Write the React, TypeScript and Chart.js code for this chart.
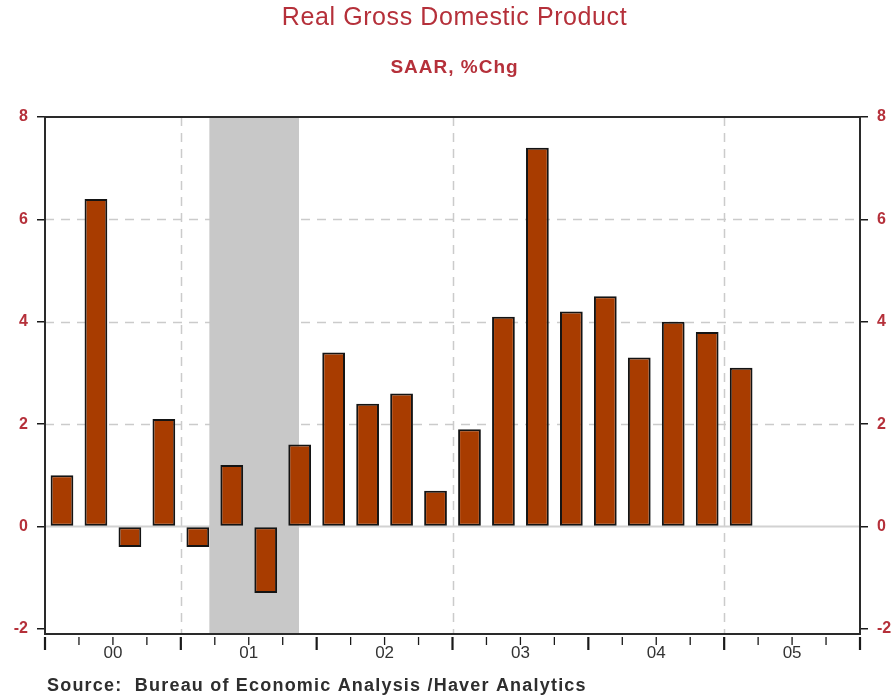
import { useEffect, useRef } from "react";
import { Chart, registerables } from "chart.js";

Chart.register(...registerables);

// Quarterly real GDP growth, SAAR % change
const quarters = [
  "2000Q1", "2000Q2", "2000Q3", "2000Q4",
  "2001Q1", "2001Q2", "2001Q3", "2001Q4",
  "2002Q1", "2002Q2", "2002Q3", "2002Q4",
  "2003Q1", "2003Q2", "2003Q3", "2003Q4",
  "2004Q1", "2004Q2", "2004Q3", "2004Q4",
  "2005Q1",
];
const gdpGrowth = [
  1.0, 6.4, -0.4, 2.1,
  -0.4, 1.2, -1.3, 1.6,
  3.4, 2.4, 2.6, 0.7,
  1.9, 4.1, 7.4, 4.2,
  4.5, 3.3, 4.0, 3.8,
  3.1,
];
const yearLabels = ["00", "01", "02", "03", "04", "05"];
const firstYear = 2000;
const yTicks = [-2, 0, 2, 4, 6, 8];
const yGridValues = [2, 4, 6];
const dashedYears = [2001, 2003, 2005];
// NBER recession, March–November 2001 (fractional years)
const recession = [2001.21, 2001.87];

const TITLE = "Real Gross Domestic Product";
const SUBTITLE = "SAAR, %Chg";
const SOURCE = "Source:  Bureau of Economic Analysis /Haver Analytics";

const RED = "#b5303a";
const FONT = "Arial, 'Liberation Sans', sans-serif";

function quarterToX(q: string): number {
  const yr = parseInt(q.slice(0, 4), 10);
  const n = parseInt(q.slice(5), 10);
  return yr + (n - 0.5) / 4;
}

const decor = {
  id: "decor",
  beforeDatasetsDraw(chart: any) {
    const { ctx, chartArea: a, scales } = chart;
    const x = scales.x;
    const y = scales.y;
    ctx.save();
    // dashed grid
    ctx.strokeStyle = "#cbcbcb";
    ctx.lineWidth = 1.5;
    ctx.setLineDash([9, 7]);
    for (const v of yGridValues) {
      const py = Math.round(y.getPixelForValue(v)) + 0.5;
      ctx.beginPath();
      ctx.moveTo(a.left, py);
      ctx.lineTo(a.right, py);
      ctx.stroke();
    }
    for (const yr of dashedYears) {
      const px = Math.round(x.getPixelForValue(yr)) + 0.5;
      ctx.beginPath();
      ctx.moveTo(px, a.top);
      ctx.lineTo(px, a.bottom);
      ctx.stroke();
    }
    ctx.setLineDash([]);
    // zero line
    const zy = y.getPixelForValue(0);
    ctx.strokeStyle = "#d2d2d2";
    ctx.lineWidth = 2;
    ctx.beginPath();
    ctx.moveTo(a.left, zy);
    ctx.lineTo(a.right, zy);
    ctx.stroke();
    // recession shading
    const x0 = x.getPixelForValue(recession[0]);
    const x1 = x.getPixelForValue(recession[1]);
    ctx.fillStyle = "#c8c8c8";
    ctx.fillRect(x0, a.top, x1 - x0, a.bottom - a.top);
    ctx.restore();
  },
  afterDraw(chart: any) {
    const { ctx, chartArea: a, scales } = chart;
    const x = scales.x;
    ctx.save();
    // plot frame
    ctx.strokeStyle = "#2a2a2a";
    ctx.lineWidth = 2;
    ctx.strokeRect(a.left, a.top, a.right - a.left, a.bottom - a.top);
    // quarter ticks below the axis
    const nQ = yearLabels.length * 4;
    for (let i = 0; i <= nQ; i++) {
      const px = x.getPixelForValue(firstYear + i / 4);
      const isYear = i % 4 === 0;
      ctx.strokeStyle = "#1a1a1a";
      ctx.lineWidth = isYear ? 2.2 : 1.3;
      ctx.beginPath();
      ctx.moveTo(px, a.bottom + 3);
      ctx.lineTo(px, a.bottom + (isYear ? 16 : 11));
      ctx.stroke();
    }
    // titles
    const cx = (a.left + a.right) / 2 + 2;
    ctx.fillStyle = RED;
    ctx.textAlign = "center";
    ctx.textBaseline = "middle";
    ctx.font = `25px ${FONT}`;
    (ctx as any).letterSpacing = "0.6px";
    ctx.fillText(TITLE, cx, 18);
    ctx.font = `bold 19px ${FONT}`;
    (ctx as any).letterSpacing = "1px";
    ctx.fillText(SUBTITLE, cx, 68);
    // source note
    ctx.fillStyle = "#2e2e2e";
    ctx.textAlign = "left";
    ctx.font = `bold 18px ${FONT}`;
    (ctx as any).letterSpacing = "1.2px";
    ctx.fillText(SOURCE, 47, 686);
    ctx.restore();
  },
};

const yAxisCommon = (position: "left" | "right", width: number) => ({
  type: "linear" as const,
  position,
  min: -2.1,
  max: 8,
  afterBuildTicks(axis: any) {
    axis.ticks = yTicks.map((v) => ({ value: v }));
  },
  afterFit(axis: any) {
    axis.width = width;
  },
  grid: {
    display: true,
    drawOnChartArea: false,
    drawTicks: true,
    tickLength: 8,
    color: "#1a1a1a",
    lineWidth: 1.5,
  },
  border: { display: false },
  ticks: {
    color: RED,
    padding: 9,
    font: { family: FONT, size: 16, weight: "bold" as const },
  },
});

export default function App() {
  const canvasRef = useRef<HTMLCanvasElement | null>(null);

  useEffect(() => {
    document.body.style.margin = "0";
    const canvas = canvasRef.current;
    if (!canvas) return;
    const chart = new Chart(canvas, {
      type: "bar",
      data: {
        datasets: [
          {
            label: "Real GDP",
            data: quarters.map((q, i) => ({ x: quarterToX(q), y: gdpGrowth[i] })),
            backgroundColor: "#a83c00",
            borderColor: "#141414",
            borderWidth: 2,
            borderSkipped: false,
            barPercentage: 0.67,
            categoryPercentage: 1,
            yAxisID: "y",
          },
        ],
      },
      options: {
        responsive: false,
        animation: false,
        layout: { padding: { top: 117, left: 0, right: 0, bottom: 0 } },
        plugins: {
          legend: { display: false },
          tooltip: { enabled: false },
          title: { display: false },
        },
        scales: {
          x: {
            type: "linear",
            position: "bottom",
            min: firstYear,
            max: firstYear + yearLabels.length,
            offset: false,
            afterBuildTicks(axis: any) {
              axis.ticks = yearLabels.map((_, i) => ({ value: firstYear + i + 0.5 }));
            },
            afterFit(axis: any) {
              axis.height = 66;
            },
            grid: { display: false, drawTicks: false },
            border: { display: false },
            ticks: {
              autoSkip: false,
              maxRotation: 0,
              color: "#333333",
              padding: 9,
              font: { family: FONT, size: 17 },
              callback: (v: any) => yearLabels[Math.floor(Number(v)) - firstYear],
            },
          },
          y: yAxisCommon("left", 45),
          y2: yAxisCommon("right", 36),
        },
      },
      plugins: [decor],
    });
    return () => chart.destroy();
  }, []);

  return <canvas ref={canvasRef} width={896} height={700} style={{ display: "block" }} />;
}
